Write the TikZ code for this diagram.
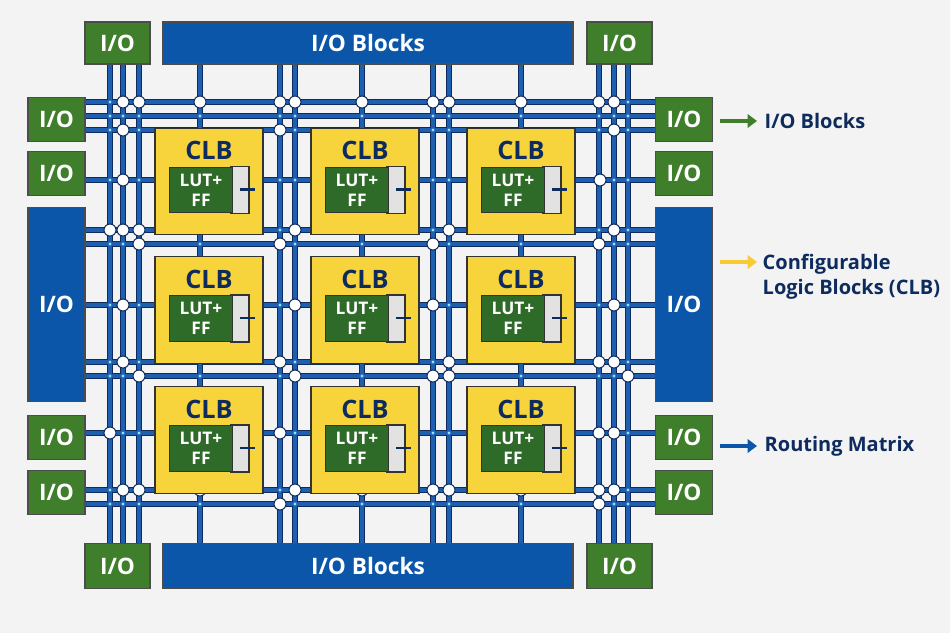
\documentclass[tikz,border=0pt]{standalone}
\usepackage{fontspec}
\setmainfont{Open Sans}
\usetikzlibrary{arrows.meta}
\definecolor{bg}{HTML}{F3F3F3}
\definecolor{iog}{HTML}{3F7F2C}
\definecolor{lutg}{HTML}{2F6B28}
\definecolor{iob}{HTML}{0B56A8}
\definecolor{clby}{HTML}{F7D43C}
\definecolor{navy}{HTML}{0E2B5E}
\definecolor{wire}{HTML}{1F5FB0}
\definecolor{gray1}{HTML}{E2E2E2}
\tikzset{
 ioG/.style={rectangle,fill=iog,draw=black!70,line width=0.8pt,text=white,font=\fontsize{17}{17}\selectfont\bfseries,inner sep=0pt},
 ioB/.style={rectangle,fill=iob,draw=black!70,line width=0.8pt,text=white,font=\fontsize{17}{17}\selectfont\bfseries,inner sep=0pt},
 clbbox/.style={rectangle,fill=clby,draw=black!80,line width=0.9pt,minimum width=81pt,minimum height=80pt,inner sep=0pt},
 junc/.style={circle,fill=white,draw=navy,line width=0.8pt,minimum size=9pt,inner sep=0pt},
 dotj/.style={circle,fill=cyan!40,minimum size=2.5pt,inner sep=0pt},
 legtxt/.style={text=navy,font=\fontsize{15}{19}\selectfont\bfseries,anchor=west,align=left},
 wireo/.style={navy,line width=4.8pt},
 wirei/.style={wire,line width=2.6pt},
 legarrow/.style={-{Triangle[length=7pt,width=10pt]},line width=3.5pt},
}
\begin{document}
\begin{tikzpicture}[x=0.75pt,y=-0.75pt]
\fill[bg] (0,0) rectangle (950,633);
\useasboundingbox (0,0) rectangle (950,633);
% wires
\foreach \y in {102,116,130,180,230,244,305,362,376,433,490,504}{\draw[wireo] (85,\y)--(655,\y);}
\foreach \x in {110,123,139,200,280,295,362,433,449,521,599,614,628}{\draw[wireo] (\x,64)--(\x,543);}
\foreach \y in {102,116,130,180,230,244,305,362,376,433,490,504}{\draw[wirei] (85,\y)--(655,\y);}
\foreach \x in {110,123,139,200,280,295,362,433,449,521,599,614,628}{\draw[wirei] (\x,64)--(\x,543);}
% small dots
\foreach \x in {110,123,139,200,280,295,362,433,449,521,599,614,628}{
 \foreach \y in {102,116,130,180,230,244,305,362,376,433,490,504}{\node[dotj] at (\x,\y) {};}}
% junctions
\foreach \x/\y in {123/102,139/102,200/102,280/102,295/102,362/102,433/102,449/102,521/102,599/102,614/102,
 123/130,280/130,614/130,123/180,600/180,110/230,123/230,139/230,295/230,449/230,614/230,
 139/244,280/244,433/244,599/244,123/305,295/305,433/305,614/305,
 123/362,280/362,449/362,599/362,614/362,139/376,295/376,433/376,449/376,628/376,
 110/433,280/433,599/433,614/433,123/490,139/490,200/490,295/490,362/490,433/490,449/490,521/490,599/490,614/490,
 280/504,599/504}{\node[junc] at (\x,\y) {};}
% IO
\node[ioB,minimum width=307.5pt,minimum height=31.5pt] (tb) at (368,43) {I/O Blocks};
\node[ioB,minimum width=307.5pt,minimum height=34pt] (bb) at (368,566) {I/O Blocks};
\node[ioG,minimum width=48.75pt,minimum height=31.5pt] (c1) at (117.5,43) {I/O};
\node[ioG,minimum width=48.75pt,minimum height=31.5pt] (c2) at (619.5,43) {I/O};
\node[ioG,minimum width=48.75pt,minimum height=34pt] (c3) at (117.5,566) {I/O};
\node[ioG,minimum width=48.75pt,minimum height=34pt] (c4) at (619.5,566) {I/O};
\foreach \n/\yc in {a/119.5,b/173.5,c/437.5,d/492.5}{
 \node[ioG,minimum width=42.75pt,minimum height=33pt] (l\n) at (56.5,\yc) {I/O};
 \node[ioG,minimum width=42.75pt,minimum height=33pt] (r\n) at (684,\yc) {I/O};}
\node[ioB,minimum width=42.75pt,minimum height=146pt] (lbig) at (56.5,304.5) {I/O};
\node[ioB,minimum width=42.75pt,minimum height=146pt] (rbig) at (684,304.5) {I/O};
% CLBs
\foreach \cx [count=\i] in {209,365,521}{
 \foreach \cy [count=\j] in {181.5,310,440}{
  \node[clbbox] (clb\i\j) at (\cx,\cy) {};
  \node[text=navy,font=\fontsize{19}{19}\selectfont\bfseries] at (\cx,\cy-31) {CLB};
  \fill[gray1,draw=black!80,line width=0.8pt] (\cx+22,\cy-15) rectangle (\cx+40,\cy+32);
  \node[rectangle,fill=lutg,draw=black!80,line width=0.8pt,minimum width=47pt,minimum height=34pt,text=white,
   font=\fontsize{13}{15}\selectfont\bfseries,align=center,inner sep=0pt] (lut\i\j) at (\cx-8,\cy+8.5) {LUT+\\FF};
  \draw[navy,line width=1.8pt] (\cx+31,\cy+8)--(\cx+46,\cy+8);
 }}
% legend
\coordinate (g1) at (720,121); \coordinate (g2) at (757,121);
\draw[legarrow,iog] (g1)--(g2);
\node[legtxt] (t1) at (760,121) {I/O Blocks};
\coordinate (y1) at (720,262); \coordinate (y2) at (757,262);
\draw[legarrow,clby!90!orange] (y1)--(y2);
\node[legtxt,anchor=north west] (t2) at (758,249) {Configurable\\Logic Blocks (CLB)};
\coordinate (b1) at (720,446); \coordinate (b2) at (757,446);
\draw[legarrow,iob] (b1)--(b2);
\node[legtxt] (t3) at (760,446) {Routing Matrix};
\end{tikzpicture}
\end{document}
